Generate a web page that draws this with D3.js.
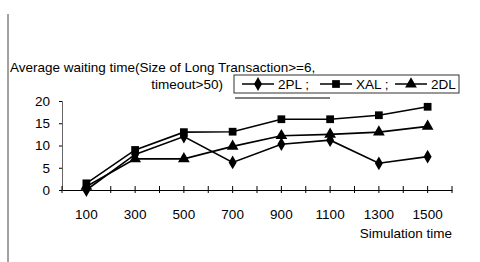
<!DOCTYPE html>
<html>
<head>
<meta charset="utf-8">
<style>
  body { margin: 0; background: #fff; }
  text { font-family: "Liberation Sans", Arial, sans-serif; fill: #000; }
</style>
</head>
<body>
<script src="https://cdn.jsdelivr.net/npm/d3@7"></script>
<script>
// chart data
var simTimes = ["100", "300", "500", "700", "900", "1100", "1300", "1500"];
var pl2 = [0, 8, 12, 6.2, 10.3, 11.2, 6, 7.5];
var xal = [1.5, 9, 13, 13.1, 15.9, 15.9, 16.8, 18.7];
var dl2 = [0.8, 7, 7, 9.8, 12.2, 12.5, 13, 14.3];
var yTicks = [0, 5, 10, 15, 20];

var width = 480, height = 262;

var svg = d3.select("body").append("svg")
    .attr("width", width)
    .attr("height", height);

var x = d3.scaleBand().domain(simTimes).range([62, 452]);
var y = d3.scaleLinear().domain([0, 20]).range([190, 101]);

// scan border at left
svg.append("line")
    .attr("x1", 8).attr("x2", 8)
    .attr("y1", 14).attr("y2", 262)
    .attr("stroke", "#444").attr("stroke-width", 1);

// y axis
var yAxis = svg.append("g")
    .attr("transform", "translate(62,0)")
    .call(d3.axisLeft(y).tickValues(yTicks).tickSize(3).tickPadding(9));
yAxis.select(".domain").attr("stroke", "#666");
yAxis.selectAll("text").style("font-size", "13.5px").attr("font-family", "Liberation Sans, Arial, sans-serif");

// x axis
var xAxis = svg.append("g")
    .attr("transform", "translate(0,190)")
    .call(d3.axisBottom(x).tickSize(0).tickPadding(19));
xAxis.select(".domain").attr("stroke", "#000").attr("stroke-width", 1.2);
xAxis.selectAll("text").style("font-size", "13.5px").attr("font-family", "Liberation Sans, Arial, sans-serif");

// small cross ticks at centers and boundaries
var tickPos = simTimes.map(function(d) { return x(d) + x.bandwidth() / 2; })
    .concat(simTimes.map(function(d) { return x(d); }))
    .concat([x.range()[1]]);
svg.append("g").selectAll("line")
    .data(tickPos)
    .enter().append("line")
    .attr("x1", function(d) { return d; })
    .attr("x2", function(d) { return d; })
    .attr("y1", 186).attr("y2", 193)
    .attr("stroke", "#000").attr("stroke-width", 1);

var line = d3.line()
    .x(function(d, i) { return x(simTimes[i]) + x.bandwidth() / 2; })
    .y(function(d) { return y(d); });

var series = [
  { name: "2PL", values: pl2, shape: d3.symbolDiamond, size: 55 },
  { name: "XAL", values: xal, shape: d3.symbolSquare, size: 60 },
  { name: "2DL", values: dl2, shape: d3.symbolTriangle, size: 60 }
];

series.forEach(function(s) {
  svg.append("path")
      .attr("d", line(s.values))
      .attr("fill", "none")
      .attr("stroke", "#000")
      .attr("stroke-width", 1.6);
  svg.append("g").selectAll("path")
      .data(s.values)
      .enter().append("path")
      .attr("d", d3.symbol().type(s.shape).size(s.size))
      .attr("transform", function(d, i) {
        return "translate(" + (x(simTimes[i]) + x.bandwidth() / 2) + "," + y(d) + ")";
      })
      .attr("fill", "#000");
});

// title
svg.append("text")
    .attr("x", 10).attr("y", 72)
    .style("font-size", "13.5px")
    .text("Average waiting time(Size of Long Transaction>=6,");
svg.append("text")
    .attr("x", 223).attr("y", 89)
    .attr("text-anchor", "end")
    .style("font-size", "13.5px")
    .text("timeout>50)");

// legend
svg.append("rect")
    .attr("x", 234).attr("y", 75)
    .attr("width", 225).attr("height", 18)
    .attr("fill", "none").attr("stroke", "#333").attr("stroke-width", 1);
svg.append("line")
    .attr("x1", 235).attr("x2", 330).attr("y1", 98).attr("y2", 98)
    .attr("stroke", "#000").attr("stroke-width", 1);

var legX = [242, 320, 395];
series.forEach(function(s, i) {
  var g = svg.append("g").attr("transform", "translate(" + legX[i] + ",84)");
  g.append("line").attr("x1", 0).attr("x2", 32)
      .attr("stroke", "#000").attr("stroke-width", 1.5);
  g.append("path")
      .attr("d", d3.symbol().type(s.shape).size(s.size))
      .attr("transform", "translate(16,0)");
  g.append("text")
      .attr("x", 36).attr("y", 5)
      .style("font-size", "13.5px")
      .text(s.name + (i < 2 ? " ;" : ""));
});

// x axis title
svg.append("text")
    .attr("x", 452).attr("y", 238)
    .attr("text-anchor", "end")
    .style("font-size", "13.5px")
    .text("Simulation time");
</script>
</body>
</html>
